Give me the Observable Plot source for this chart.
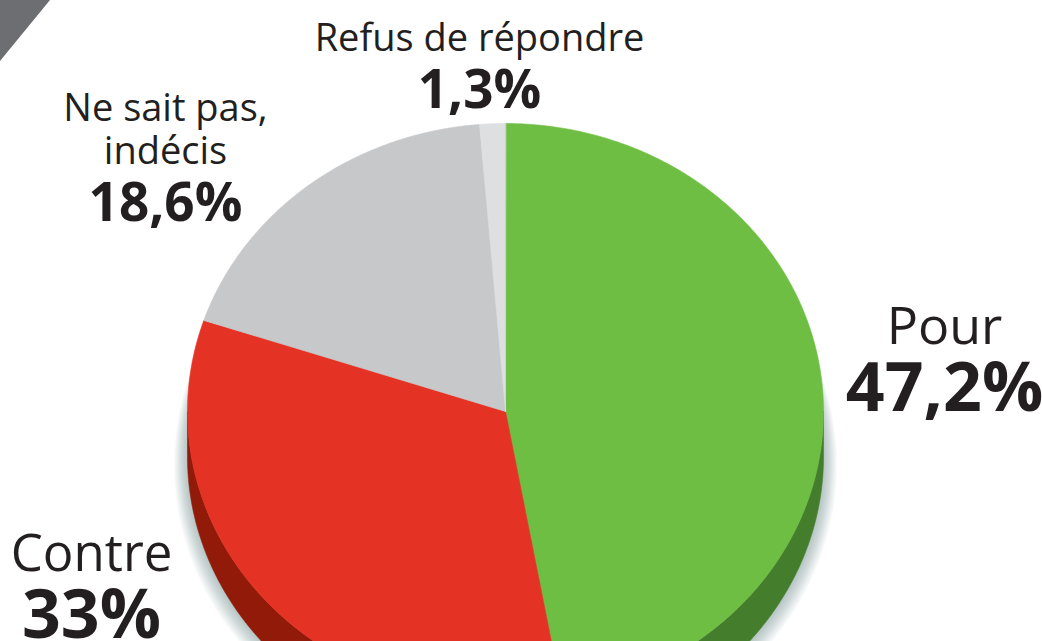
<!DOCTYPE html>
<html><head><meta charset="utf-8">
<script src="https://cdn.jsdelivr.net/npm/d3@7"></script>
<script src="https://cdn.jsdelivr.net/npm/@observablehq/plot@0.6"></script>
<style>
html,body{margin:0;padding:0;background:#fff;overflow:hidden}
#wrap{position:relative;width:1042px;height:641px}
#corner{position:absolute;left:0;top:0;width:50px;height:61px;background:#6d6e71;clip-path:polygon(0 0,100% 0,0 100%)}
</style></head><body><div id="wrap"><div id="chart"></div><div id="corner"></div></div>
<script>
// ---- data ----
const categories = ["Pour", "Contre", "Ne sait pas, indécis", "Refus de répondre"];
const values = [47.2, 33, 18.6, 1.3];
const valueLabels = ["47,2%", "33%", "18,6%", "1,3%"];
const nameLines = [["Pour"], ["Contre"], ["Ne sait pas,", "indécis"], ["Refus de répondre"]];
const topColors = ["#6ebe44", "#e43325", "#c7c8ca", "#dedfe0"];
const sideColors = ["#447e2d", "#911a08", "#9c9da0", "#b3b4b6"];

// ---- layout ----
const W = 1042, H = 641;
const cx = 505, cy = 411, rx = 318, ry = 288, depth = 45;
const labelLayout = [
  {x: 944, nameY: [343], nameSize: 52, valueY: 410, valueSize: 68},
  {x: 91,  nameY: [570], nameSize: 51, valueY: 637, valueSize: 68},
  {x: 165, nameY: [120, 163], nameSize: 38, valueY: 220, valueSize: 53},
  {x: 479, nameY: [50], nameSize: 38, valueY: 107, valueSize: 53}
];
const textColor = "#231f20";
const font = "Open Sans";

// ---- geometry from data ----
const total = d3.sum(values);
let acc = 0;
const slices = values.map((v, i) => {
  const a0 = acc / total * 2 * Math.PI; acc += v;
  const a1 = acc / total * 2 * Math.PI;
  return {i, a0, a1};
});
function ellPts(a0, a1, ecx, ecy, erx, ery) {
  const n = Math.max(2, Math.ceil((a1 - a0) / 0.01));
  return d3.range(n + 1).map(k => {
    const t = a0 + (a1 - a0) * k / n;
    return {x: ecx + erx * Math.sin(t), y: ecy - ery * Math.cos(t)};
  });
}
const marks = [];
// soft shadow
for (let k = 16; k >= 1; k--) {
  const pts = ellPts(0, 2 * Math.PI, cx, cy + depth + k * 0.55, rx + k * 0.85, ry + k * 0.55);
  marks.push(Plot.line(pts, {x: "x", y: "y", fill: "#5a6066", fillOpacity: 0.028, stroke: "none", curve: "linear-closed"}));
}
// walls
slices.forEach(s => {
  const lo = Math.max(s.a0, Math.PI / 2), hi = Math.min(s.a1, 3 * Math.PI / 2);
  if (lo < hi) {
    const pts = [...ellPts(lo, hi, cx, cy, rx, ry), ...ellPts(lo, hi, cx, cy + depth, rx, ry).reverse()];
    marks.push(Plot.line(pts, {x: "x", y: "y", fill: sideColors[s.i], stroke: sideColors[s.i], strokeWidth: 0.6, curve: "linear-closed"}));
  }
});
// top faces
slices.forEach(s => {
  const pts = [{x: cx, y: cy}, ...ellPts(s.a0, s.a1, cx, cy, rx, ry)];
  marks.push(Plot.line(pts, {x: "x", y: "y", fill: topColors[s.i], stroke: topColors[s.i], strokeWidth: 0.6, curve: "linear-closed"}));
});
// labels
const nameRows = [], valueRows = [];
categories.forEach((c, i) => {
  const L = labelLayout[i];
  nameLines[i].forEach((t, j) => nameRows.push({x: L.x, y: L.nameY[j], text: t, size: L.nameSize}));
  valueRows.push({x: L.x, y: L.valueY, text: valueLabels[i], size: L.valueSize});
});
marks.push(Plot.text(nameRows, {x: "x", y: "y", text: "text", fontSize: "size", textAnchor: "middle", lineAnchor: "bottom", fill: textColor, fontFamily: font}));
marks.push(Plot.text(valueRows, {x: "x", y: "y", text: "text", fontSize: "size", textAnchor: "middle", lineAnchor: "bottom", fill: textColor, fontFamily: font, fontWeight: "bold"}));

const chart = Plot.plot({
  width: W, height: H, margin: 0,
  x: {domain: [0, W], range: [0, W], axis: null},
  y: {domain: [0, H], range: [0, H], axis: null},
  marks
});
document.getElementById("chart").appendChild(chart);
</script></body></html>
